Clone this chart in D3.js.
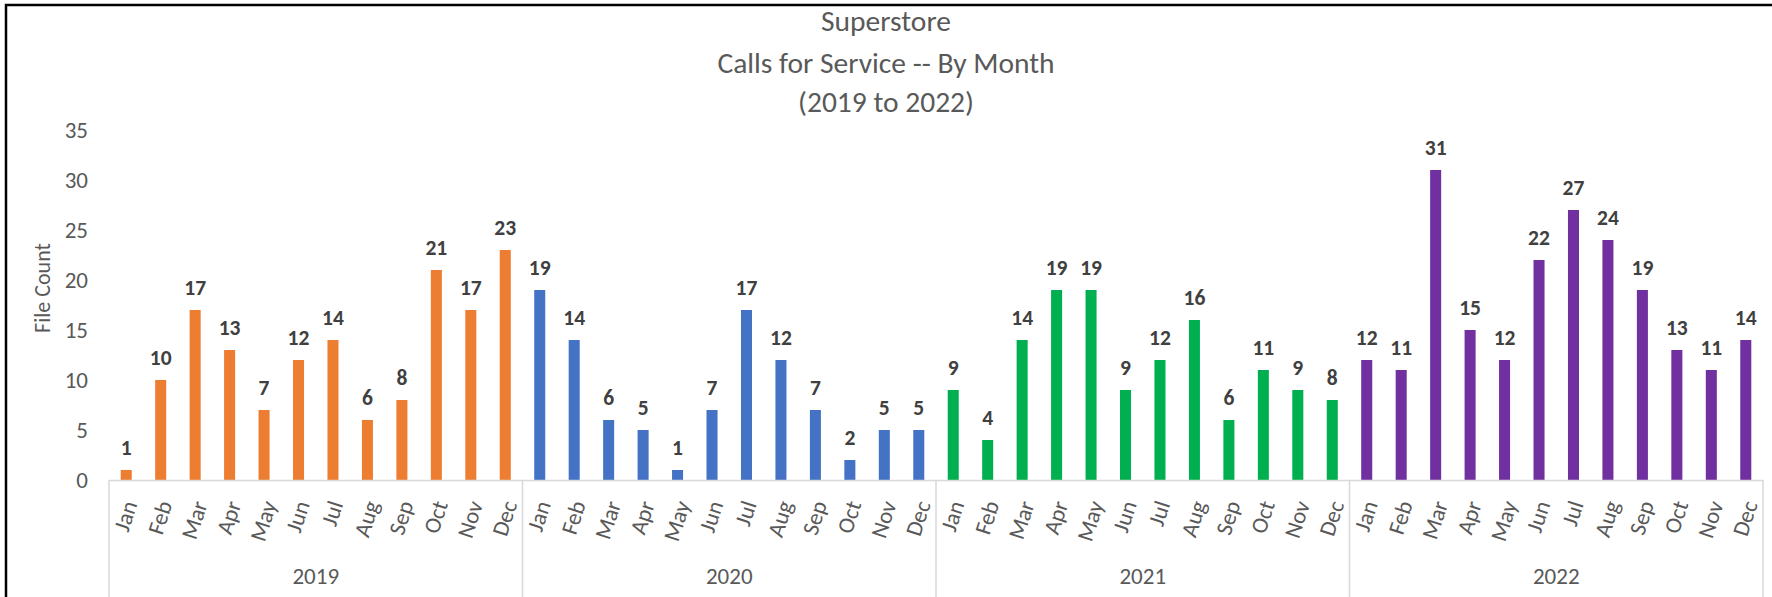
<!DOCTYPE html>
<html>
<head>
<meta charset="utf-8">
<script src="https://cdn.jsdelivr.net/npm/d3@7"></script>
<style>
  html, body { margin: 0; padding: 0; background: #ffffff; }
  svg { display: block; }
  text { font-family: Carlito, Calibri, Lato, "Open Sans", sans-serif; }
</style>
</head>
<body>
<svg id="chart" width="1772" height="597"></svg>
<script>
// ---- data ----
const years = ["2019", "2020", "2021", "2022"];
const months = ["Jan", "Feb", "Mar", "Apr", "May", "Jun", "Jul", "Aug", "Sep", "Oct", "Nov", "Dec"];
const calls2019 = [1, 10, 17, 13, 7, 12, 14, 6, 8, 21, 17, 23];
const calls2020 = [19, 14, 6, 5, 1, 7, 17, 12, 7, 2, 5, 5];
const calls2021 = [9, 4, 14, 19, 19, 9, 12, 16, 6, 11, 9, 8];
const calls2022 = [12, 11, 31, 15, 12, 22, 27, 24, 19, 13, 11, 14];
const yearColors = ["#ED7D31", "#4472C4", "#00B050", "#7030A0"];
const yTicks = [0, 5, 10, 15, 20, 25, 30, 35];
const titleLines = ["Superstore", "Calls for Service -- By Month", "(2019 to 2022)"];
const yTitle = "File Count";

const seriesByYear = [calls2019, calls2020, calls2021, calls2022];
const data = [];
years.forEach((yr, yi) => {
  months.forEach((m, mi) => {
    data.push({ key: yr + "-" + m, year: yr, month: m, value: seriesByYear[yi][mi], color: yearColors[yi] });
  });
});

// ---- layout ----
const svg = d3.select("#chart");
const plotLeft = 109, plotRight = 1763, plotTop = 130, plotBottom = 480;
const titleBaselines = [31, 73, 112];

// frame
svg.append("rect")
  .attr("x", 6).attr("y", 5)
  .attr("width", 1780).attr("height", 620)
  .attr("fill", "none").attr("stroke", "#000").attr("stroke-width", 2.5);

const x = d3.scaleBand()
  .domain(data.map(d => d.key))
  .range([plotLeft, plotRight])
  .paddingInner(0.68)
  .paddingOuter(0.34);

const xYear = d3.scaleBand()
  .domain(years)
  .range([plotLeft, plotRight])
  .padding(0);

const y = d3.scaleLinear().domain([0, 35]).range([plotBottom, plotTop]);

// title
const title = svg.append("text")
  .attr("text-anchor", "middle")
  .attr("fill", "#595959")
  .style("font-size", "29.5px");
titleLines.forEach((t, i) => {
  title.append("tspan").attr("x", 886).attr("y", titleBaselines[i]).text(t);
});

// y axis
const yAxis = svg.append("g")
  .attr("transform", `translate(${plotLeft - 19},0)`)
  .call(d3.axisLeft(y).tickValues(yTicks).tickSize(0).tickPadding(2));
yAxis.select(".domain").remove();
yAxis.selectAll("text")
  .attr("fill", "#595959")
  .style("font-size", "23px")
  .style("font-family", "Carlito, Calibri, Lato, sans-serif");

svg.append("text")
  .attr("transform", "translate(50,288) rotate(-90)")
  .attr("text-anchor", "middle")
  .attr("fill", "#595959")
  .style("font-size", "22px")
  .text(yTitle);

// bars
svg.append("g").selectAll("rect")
  .data(data)
  .join("rect")
  .attr("x", d => x(d.key))
  .attr("y", d => y(d.value))
  .attr("width", x.bandwidth())
  .attr("height", d => y(0) - y(d.value))
  .attr("fill", d => d.color);

// data labels
svg.append("g").selectAll("text")
  .data(data)
  .join("text")
  .attr("x", d => x(d.key) + x.bandwidth() / 2)
  .attr("y", d => y(d.value) - 15)
  .attr("text-anchor", "middle")
  .attr("fill", "#404040")
  .style("font-size", "21.5px")
  .style("font-weight", "bold")
  .text(d => d.value);

// x axis (year level, with baseline)
const xAxis = svg.append("g")
  .attr("transform", `translate(0,${plotBottom})`)
  .call(d3.axisBottom(xYear).tickSize(0).tickFormat(""));
xAxis.select(".domain").attr("stroke", "#d9d9d9").attr("stroke-width", 1.5);
xAxis.selectAll(".tick").remove();

// year separators
const bounds = years.map(yr => xYear(yr)).concat([xYear(years[years.length - 1]) + xYear.bandwidth()]);
svg.append("g").selectAll("line")
  .data(bounds)
  .join("line")
  .attr("x1", d => d).attr("x2", d => d)
  .attr("y1", plotBottom).attr("y2", 597)
  .attr("stroke", "#d9d9d9").attr("stroke-width", 1.5);

// month labels (rotated)
const angle = -72;
const rad = Math.abs(angle) * Math.PI / 180;
const monthLabels = svg.append("g").selectAll("text")
  .data(data)
  .join("text")
  .attr("text-anchor", "end")
  .attr("fill", "#595959")
  .style("font-size", "23px")
  .text(d => d.month);
monthLabels.each(function(d) {
  const L = this.getComputedTextLength();
  const h = 14;
  const cx = x(d.key) + x.bandwidth() / 2;
  const ax = cx + (L / 2) * Math.cos(rad) + (h / 2) * Math.sin(rad);
  const ay = 504;
  d3.select(this).attr("transform", `translate(${ax},${ay}) rotate(${angle})`);
});

// year labels
svg.append("g").selectAll("text")
  .data(years)
  .join("text")
  .attr("x", d => xYear(d) + xYear.bandwidth() / 2)
  .attr("y", 584)
  .attr("text-anchor", "middle")
  .attr("fill", "#595959")
  .style("font-size", "23px")
  .text(d => d);
</script>
</body>
</html>
